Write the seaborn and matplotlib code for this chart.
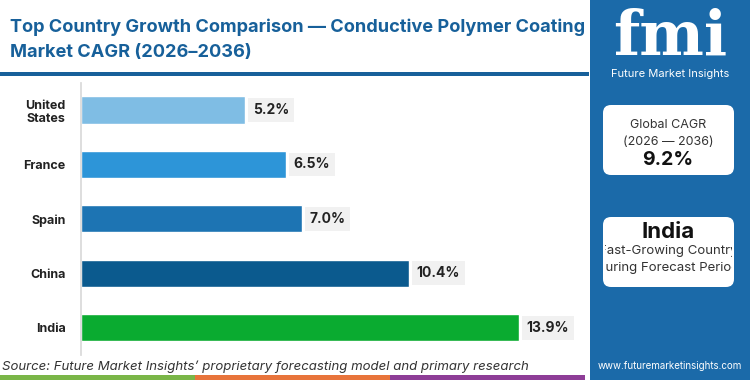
import matplotlib
matplotlib.use("Agg")
import matplotlib.pyplot as plt
import seaborn as sns
import pandas as pd
from matplotlib.patches import FancyBboxPatch, Rectangle

# chart data
countries = ["United\nStates", "France", "Spain", "China", "India"]
cagr = [5.2, 6.5, 7.0, 10.4, 13.9]
bar_colors = ["#7fbde4", "#2d95d8", "#1d74b3", "#0b5a8e", "#0aab30"]
global_cagr = "9.2%"
top_country = "India"

TITLE_BLUE = "#17609a"
PANEL_BLUE = "#1b6aa9"


def main():
    sns.set_theme(style="white")
    plt.rcParams["font.family"] = ["Inter", "DejaVu Sans"]

    data = pd.DataFrame({"country": countries, "cagr": cagr})

    fig = plt.figure(figsize=(7.5, 3.8), dpi=100)

    # title and underline
    fig.text(0.013, 0.928, "Top Country Growth Comparison \u2014 Conductive Polymer Coating",
             fontsize=13.1, fontweight="bold", color=TITLE_BLUE, va="center")
    fig.text(0.013, 0.862, "Market CAGR (2026\u20132036)",
             fontsize=13.1, fontweight="bold", color=TITLE_BLUE, va="center")
    fig.add_artist(Rectangle((0, 0.800), 0.785, 0.01, transform=fig.transFigure,
                             color=TITLE_BLUE, lw=0))

    # main bar chart
    ax = fig.add_axes([0.108, 0.066, 0.672, 0.716])
    sns.barplot(data=data, y="country", x="cagr", hue="country", palette=bar_colors,
                saturation=1, orient="h", width=0.5, legend=False, ax=ax)
    ax.set_xlim(0, 16)
    ax.set_xlabel("")
    ax.set_ylabel("")
    ax.set_xticks([])
    for s in ["top", "right", "bottom"]:
        ax.spines[s].set_visible(False)
    ax.spines["left"].set_color("#d9d9d9")
    ax.tick_params(axis="y", length=0, pad=11)
    for lab in ax.get_yticklabels():
        lab.set_fontweight("bold")
        lab.set_fontsize(9)
        lab.set_color("#222222")
        lab.set_horizontalalignment("right")

    for i, v in enumerate(cagr):
        ax.text(v + 0.25, i, f"{v:.1f}%", va="center", ha="left", fontsize=10,
                fontweight="bold", color="#222222",
                bbox=dict(boxstyle="square,pad=0.35", fc="#f1f1f1", ec="none"))

    # source line and colour strip
    fig.text(0.003, 0.035, "Source: Future Market Insights\u2019 proprietary forecasting model and primary research",
             fontsize=9.5, fontstyle="italic", color="#333333", va="center")
    for x0, c in [(0, "#7ab648"), (0.26, "#e8743b"), (0.52, "#8e3d97")]:
        fig.add_artist(Rectangle((x0, 0), 0.26, 0.013, transform=fig.transFigure, color=c, lw=0))

    # right side panel
    side = fig.add_axes([590 / 750, 0, 160 / 750, 1])
    side.set_facecolor(PANEL_BLUE)
    side.set_xlim(0, 160)
    side.set_ylim(380, 0)
    side.set_xticks([])
    side.set_yticks([])
    for s in side.spines.values():
        s.set_visible(False)

    side.text(80, 38, "fmi", fontsize=44, fontweight="bold", color="white",
              ha="center", va="center", family=["DejaVu Serif"])
    side.text(80, 74, "Future Market Insights", fontsize=8, color="white", ha="center", va="center")

    for y0 in [105, 217]:
        side.add_patch(FancyBboxPatch((13, y0), 131, 70, boxstyle="round,pad=0,rounding_size=8",
                                      fc="white", ec="none"))
    side.text(78, 125, "Global CAGR", fontsize=9, color="#333333", ha="center", va="center")
    side.text(78, 142, "(2026 \u2014 2036)", fontsize=9, color="#333333", ha="center", va="center")
    side.text(78, 160, global_cagr, fontsize=14, fontweight="bold", color="#111111",
              ha="center", va="center")
    side.text(78, 232, top_country, fontsize=16, fontweight="bold", color="#111111",
              ha="center", va="center")
    clip = Rectangle((15, 217), 127, 70, transform=side.transData)
    for yy, txt in [(251, "Fast-Growing Country"), (268, "During Forecast Period")]:
        t = side.text(78, yy, txt, fontsize=9.5, color="#333333", ha="center", va="center")
        t.set_clip_on(True)
        t.set_clip_path(clip)
    side.text(80, 366, "www.futuremarketinsights.com", fontsize=7, color="white",
              ha="center", va="center")

    fig.savefig("out.png", dpi=100)


if __name__ == "__main__":
    main()
